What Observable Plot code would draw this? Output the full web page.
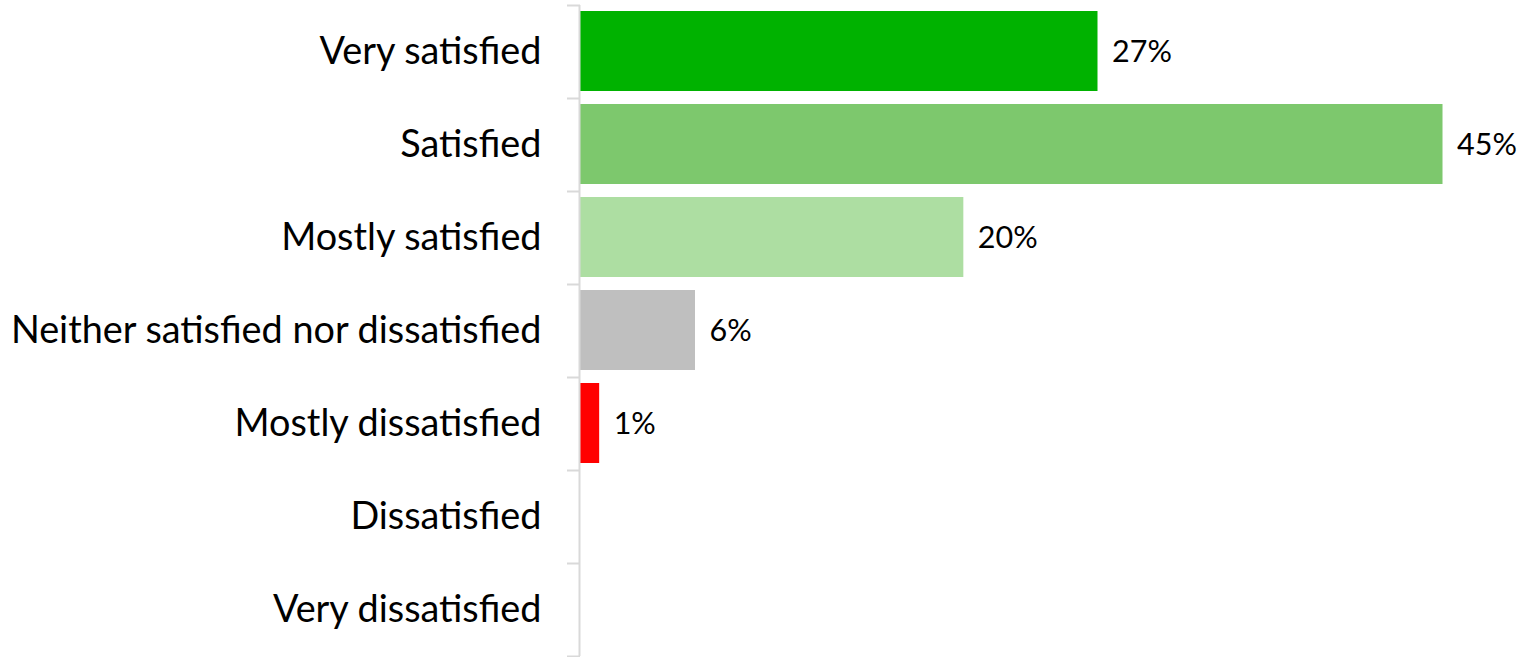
<!DOCTYPE html>
<html>
<head>
<meta charset="utf-8">
<script src="https://cdn.jsdelivr.net/npm/d3@7"></script>
<script src="https://cdn.jsdelivr.net/npm/@observablehq/plot@0.6"></script>
<style>
  html, body { margin: 0; padding: 0; background: #fff; }
  svg { display: block; }
</style>
</head>
<body>
<div id="chart"></div>
<script>
const categories = [
  "Very satisfied",
  "Satisfied",
  "Mostly satisfied",
  "Neither satisfied nor dissatisfied",
  "Mostly dissatisfied",
  "Dissatisfied",
  "Very dissatisfied"
];
const values = [27, 45, 20, 6, 1, null, null];
const colors = ["#00B200", "#7DC86D", "#ADDEA2", "#BFBFBF", "#FF0000", "#FFFFFF", "#FFFFFF"];

const data = categories.map((c, i) => ({category: c, index: i, value: values[i], color: colors[i]}));
const bars = data.filter(d => d.value != null);
const boundaries = d3.range(categories.length + 1);
const centers = categories.map((c, i) => i + 0.5);

const chart = Plot.plot({
  width: 1537,
  height: 657,
  marginLeft: 580,
  marginRight: 37,
  marginTop: 5,
  marginBottom: 1,
  style: {fontFamily: "Lato, 'Noto Sans', sans-serif", background: "#fff"},
  x: {domain: [0, 48], axis: null},
  y: {domain: [categories.length, 0], axis: null},
  marks: [
    Plot.rectX(bars, {x1: 0, x2: "value", y1: "index", y2: d => d.index + 1, fill: "color", insetTop: 6, insetBottom: 7}),
    Plot.ruleX([0], {y1: 0, y2: categories.length, stroke: "#d9d9d9", strokeWidth: 2, dx: -1}),
    Plot.axisY(boundaries, {anchor: "left", label: null, tickSize: 13, tickFormat: () => "", stroke: "#d9d9d9", strokeWidth: 2, tickPadding: 0}),
    Plot.axisY(centers, {anchor: "left", label: null, tickSize: 0, tickPadding: 39, tickFormat: (d) => categories[Math.floor(d)], fontSize: 37.8, fill: "#000", textAnchor: "end"}),
    Plot.text(bars, {x: "value", y: d => d.index + 0.5, text: d => d.value + "%", textAnchor: "start", dx: 14, fontSize: 30.5, fill: "#000"})
  ]
});
document.getElementById("chart").appendChild(chart);
</script>
</body>
</html>
